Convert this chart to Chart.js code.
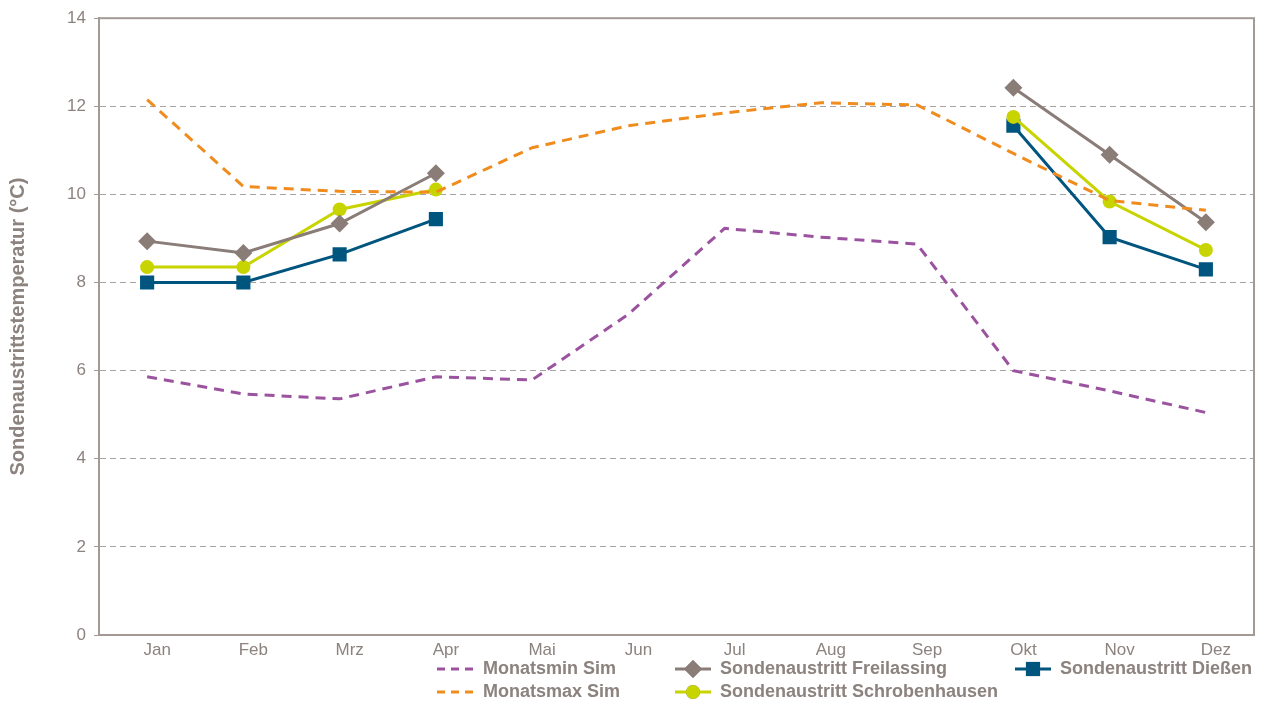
<!doctype html>
<html>
<head>
<meta charset="UTF-8">
<title>Sondenaustrittstemperatur</title>
<script src="https://cdn.jsdelivr.net/npm/chart.js@4"></script>
<style>
  html, body { margin: 0; padding: 0; background: #fff; }
  #wrap { width: 1269px; height: 702px; }
</style>
</head>
<body>
<div id="wrap"><canvas id="chart"></canvas></div>
<script>
const months = ['Jan','Feb','Mrz','Apr','Mai','Jun','Jul','Aug','Sep','Okt','Nov','Dez']

const monatsminSim = [5.86, 5.47, 5.36, 5.86, 5.79, 7.28, 9.23, 9.03, 8.87, 6.0, 5.54, 5.05]
const monatsmaxSim = [12.15, 10.18, 10.07, 10.05, 11.06, 11.56, 11.85, 12.08, 12.03, 10.93, 9.86, 9.64]
const freilassing = [8.94, 8.67, 9.34, 10.48, null, null, null, null, null, 12.42, 10.9, 9.37]
const schrobenhausen = [8.35, 8.35, 9.66, 10.11, null, null, null, null, null, 11.76, 9.84, 8.74]
const diessen = [8.0, 8.0, 8.64, 9.44, null, null, null, null, null, 11.56, 9.03, 8.3]

const txtColor = '#8c827e'
const axisColor = '#a39a96'
const font = 'Liberation Sans, Arial, sans-serif'

// legend drawn by hand so it can sit in 3 columns like the original
const legendSlots = [
  { ds: 0, x: 437, y: 669 },
  { ds: 1, x: 437, y: 692 },
  { ds: 2, x: 675, y: 669 },
  { ds: 3, x: 675, y: 692 },
  { ds: 4, x: 1015, y: 669 }
]

const frameAndLegend = {
  id: 'frameAndLegend',
  beforeDatasetsDraw (chart) {
    const { ctx, chartArea: a } = chart
    ctx.save()
    ctx.strokeStyle = axisColor
    ctx.lineWidth = 2
    ctx.strokeRect(a.left, a.top, a.right - a.left, a.bottom - a.top)
    ctx.restore()
  },
  afterDraw (chart) {
    const ctx = chart.ctx
    ctx.save()
    ctx.font = 'bold 18px ' + font
    ctx.textBaseline = 'middle'
    for (const slot of legendSlots) {
      const ds = chart.data.datasets[slot.ds]
      ctx.strokeStyle = ds.borderColor
      ctx.lineWidth = 3
      if (ds.borderDash) {
        ctx.setLineDash([8, 6])
        ctx.beginPath()
        ctx.moveTo(slot.x, slot.y)
        ctx.lineTo(slot.x + 36, slot.y)
        ctx.stroke()
        ctx.setLineDash([])
        ctx.fillStyle = txtColor
        ctx.fillText(ds.label, slot.x + 46, slot.y)
      } else {
        ctx.beginPath()
        ctx.moveTo(slot.x, slot.y)
        ctx.lineTo(slot.x + 36, slot.y)
        ctx.stroke()
        Chart.helpers.drawPoint(ctx, {
          pointStyle: ds.pointStyle,
          radius: ds.pointRadius,
          borderWidth: 0
        }, slot.x + 18, slot.y)
        ctx.fillStyle = ds.borderColor
        ctx.fill()
        ctx.fillStyle = txtColor
        ctx.fillText(ds.label, slot.x + 45, slot.y)
      }
    }
    ctx.restore()
  }
}

function measured (label, data, color, style, radius) {
  return {
    label, data,
    borderColor: color,
    backgroundColor: color,
    borderWidth: 3,
    pointStyle: style,
    pointRadius: radius,
    pointBorderWidth: 0,
    pointHoverRadius: radius,
    spanGaps: false
  }
}

function simulated (label, data, color) {
  return {
    label, data,
    borderColor: color,
    backgroundColor: color,
    borderWidth: 3,
    borderDash: [10, 7],
    pointRadius: 0,
    pointHoverRadius: 0
  }
}

new Chart(document.getElementById('chart'), {
  type: 'line',
  data: {
    labels: months,
    datasets: [
      simulated('Monatsmin Sim', monatsminSim, '#9b529f'),
      simulated('Monatsmax Sim', monatsmaxSim, '#f08c1e'),
      measured('Sondenaustritt Freilassing', freilassing, '#8a7c77', 'rectRot', 9),
      measured('Sondenaustritt Schrobenhausen', schrobenhausen, '#c8d400', 'circle', 7),
      measured('Sondenaustritt Dießen', diessen, '#00557f', 'rect', 10)
    ]
  },
  options: {
    responsive: true,
    maintainAspectRatio: false,
    animation: false,
    layout: { padding: { left: 0, right: 15, top: 16, bottom: 0 } },
    plugins: {
      legend: { display: false },
      tooltip: { enabled: false }
    },
    scales: {
      x: {
        offset: true,
        afterFit (scale) { scale.height = 67 },
        grid: { display: false, drawTicks: false },
        border: { display: true, color: axisColor, width: 2 },
        ticks: {
          color: txtColor,
          font: { family: font, size: 17 },
          padding: 5,
          labelOffset: 10,
          maxRotation: 0
        }
      },
      y: {
        min: 0,
        max: 14,
        afterFit (scale) { scale.width = 99 },
        border: { display: true, color: axisColor, width: 2, dash: [6, 4] },
        grid: {
          color: (c) => (c.tick.value === 0 || c.tick.value === 14) ? 'rgba(0,0,0,0)' : '#a8a3a0',
          lineWidth: 1,
          drawTicks: true,
          tickLength: 5,
          tickColor: axisColor,
          tickBorderDash: [],
          tickWidth: 1
        },
        ticks: {
          stepSize: 2,
          color: txtColor,
          font: { family: font, size: 17 },
          padding: 8
        },
        title: {
          display: true,
          text: 'Sondenaustrittstemperatur (°C)',
          color: txtColor,
          font: { family: font, size: 20, weight: 'bold' },
          padding: { top: 6, bottom: 0 }
        }
      }
    }
  },
  plugins: [frameAndLegend]
})
</script>
</body>
</html>
